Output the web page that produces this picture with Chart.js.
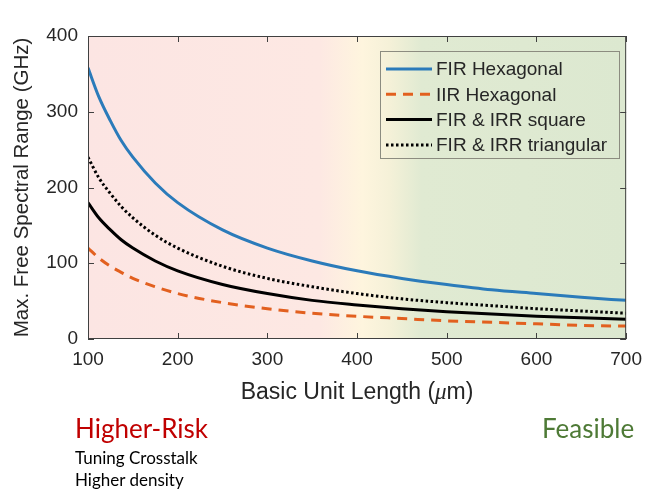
<!DOCTYPE html>
<html>
<head>
<meta charset="utf-8">
<script src="https://cdn.jsdelivr.net/npm/chart.js@4.4.1/dist/chart.umd.min.js"></script>
<style>
body{margin:0;background:#fff;}
#wrap{position:relative;width:651px;height:492px;}
#mycanvas{position:absolute;left:0;top:0;}
.note{position:absolute;font-family:Lato,"Open Sans",sans-serif;white-space:nowrap;}
</style>
</head>
<body>
<div id="wrap">
<canvas id="mycanvas" width="651" height="492"></canvas>
<div class="note" style="left:75px;top:412px;font-size:26px;color:#c00000;">Higher-Risk</div>
<div class="note" style="left:75px;top:447px;font-size:17px;color:#000;">Tuning Crosstalk</div>
<div class="note" style="left:75px;top:469px;font-size:17px;color:#000;">Higher density</div>
<div class="note" style="left:542px;top:412px;font-size:26px;color:#4e7a36;">Feasible</div>
</div>
<script>
// values
var lengths = [100,112,125,137,150,175,200,250,300,350,400,450,500,550,600,650,700];
var firHex  = [358,320,288,262,240,206,180,144,120,103,90,80,72,65,60,55,51];
var iirHex  = [120,107,96,88,80,69,60,48,40,34,30,27,24,22,20,18,17];
var square  = [180,160,144,131,120,103,90,72,60,51,45,40,36,33,30,28,26];
var triang  = [240,213,192,175,160,137,120,96,80,69,60,53,48,44,40,37,34];
var xTicks = [100,200,300,400,500,600,700];
var yTicks = [0,100,200,300,400];
var names = ['FIR Hexagonal','IIR Hexagonal','FIR & IRR square','FIR & IRR triangular'];

function pts(arr){
	var out = [];
	for(var i=0;i<lengths.length;i++){
		out.push({x:lengths[i], y:arr[i]});
	}
	return out;
}

var tickFont = {family:'"Liberation Sans", Arial, sans-serif', size:19};
var txt = '#262626';

// gradient background + inward ticks + box + titles + legend
var decor = {
	id:'decor',
	beforeDatasetsDraw:function(chart){
		var c = chart.ctx, a = chart.chartArea;
		var g = c.createLinearGradient(a.left,0,a.right,0);
		g.addColorStop(0,'rgb(252,229,227)');
		g.addColorStop(0.43,'rgb(253,232,227)');
		g.addColorStop(0.51,'rgb(254,245,222)');
		g.addColorStop(0.56,'rgb(245,241,216)');
		g.addColorStop(0.62,'rgb(224,234,210)');
		g.addColorStop(1,'rgb(220,232,208)');
		c.save();
		c.fillStyle = g;
		c.fillRect(a.left,a.top,a.right-a.left,a.bottom-a.top);
		c.restore();
	},
	afterDraw:function(chart){
		var c = chart.ctx, a = chart.chartArea;
		var xs = chart.scales.x, ys = chart.scales.y;
		c.save();
		c.strokeStyle = '#404040';
		c.lineWidth = 1;
		c.strokeRect(a.left+0.5,a.top+0.5,a.right-a.left-1,a.bottom-a.top-1);
		c.beginPath();
		xTicks.forEach(function(v){
			var p = Math.round(xs.getPixelForValue(v))+0.5;
			c.moveTo(p,a.bottom); c.lineTo(p,a.bottom-6);
			c.moveTo(p,a.top); c.lineTo(p,a.top+6);
		});
		yTicks.forEach(function(v){
			var p = Math.round(ys.getPixelForValue(v))+0.5;
			c.moveTo(a.left,p); c.lineTo(a.left+6,p);
			c.moveTo(a.right,p); c.lineTo(a.right-6,p);
		});
		c.stroke();

		// axis titles
		c.fillStyle = txt;
		var f1 = '23px "Liberation Sans", Arial, sans-serif';
		var f2 = 'italic 23px "Liberation Serif", serif';
		c.textBaseline = 'middle';
		var s1 = 'Basic Unit Length (', s2 = '\u03bc', s3 = 'm)';
		c.font = f1;
		var w1 = c.measureText(s1).width, w3 = c.measureText(s3).width;
		c.font = f2;
		var w2 = c.measureText(s2).width;
		var x0 = (a.left+a.right)/2 - (w1+w2+w3)/2, ty = 393;
		c.textAlign = 'left';
		c.font = f1;
		c.fillText(s1,x0,ty);
		c.font = f2;
		c.fillText(s2,x0+w1,ty);
		c.font = f1;
		c.fillText(s3,x0+w1+w2,ty);

		c.font = '20.5px "Liberation Sans", Arial, sans-serif';
		c.translate(22,(a.top+a.bottom)/2);
		c.rotate(-Math.PI/2);
		c.textAlign = 'center';
		c.fillText('Max. Free Spectral Range (GHz)',0,0);
		c.restore();

		// legend
		c.save();
		var lx = 380, ly = 51, lw = 239, lh = 107;
		c.strokeStyle = '#8c8c80';
		c.lineWidth = 1;
		c.strokeRect(lx+0.5,ly+0.5,lw,lh);
		c.font = '19px "Liberation Sans", Arial, sans-serif';
		c.textBaseline = 'middle';
		c.textAlign = 'left';
		chart.data.datasets.forEach(function(ds,i){
			var yy = ly + 18 + i*25.3;
			c.beginPath();
			c.strokeStyle = ds.borderColor;
			c.lineWidth = ds.borderWidth;
			c.setLineDash(ds.borderDash || []);
			c.moveTo(lx+6,yy); c.lineTo(lx+52,yy);
			c.stroke();
			c.setLineDash([]);
			c.fillStyle = txt;
			c.fillText(ds.label,lx+56,yy+1);
		});
		c.restore();
	}
};

var ctx = document.getElementById('mycanvas');
var chart = new Chart(ctx,{
	type:'line',
	data:{
		datasets:[
			{label:names[0], data:pts(firHex), borderColor:'#2b7bba', borderWidth:3},
			{label:names[1], data:pts(iirHex), borderColor:'#e2601f', borderWidth:3, borderDash:[10,7]},
			{label:names[2], data:pts(square), borderColor:'#000000', borderWidth:3},
			{label:names[3], data:pts(triang), borderColor:'#000000', borderWidth:3, borderDash:[2.5,2.5]}
		]
	},
	options:{
		responsive:false,
		animation:false,
		events:[],
		elements:{point:{radius:0}, line:{cubicInterpolationMode:'monotone', fill:false}},
		layout:{padding:{top:36,right:17,bottom:83,left:0}},
		plugins:{legend:{display:false}, tooltip:{enabled:false}},
		scales:{
			x:{
				type:'linear', min:100, max:700,
				afterFit:function(s){ s.height = 70; },
				afterBuildTicks:function(s){ s.ticks = xTicks.map(function(v){return {value:v};}); },
				grid:{drawOnChartArea:false, drawTicks:false},
				border:{display:false},
				ticks:{font:tickFont, color:txt, padding:9, maxRotation:0}
			},
			y:{
				type:'linear', min:0, max:400,
				afterFit:function(s){ s.width = 88; },
				afterBuildTicks:function(s){ s.ticks = yTicks.map(function(v){return {value:v};}); },
				grid:{drawOnChartArea:false, drawTicks:false},
				border:{display:false},
				ticks:{font:tickFont, color:txt, padding:10}
			}
		}
	},
	plugins:[decor]
});
</script>
</body>
</html>
